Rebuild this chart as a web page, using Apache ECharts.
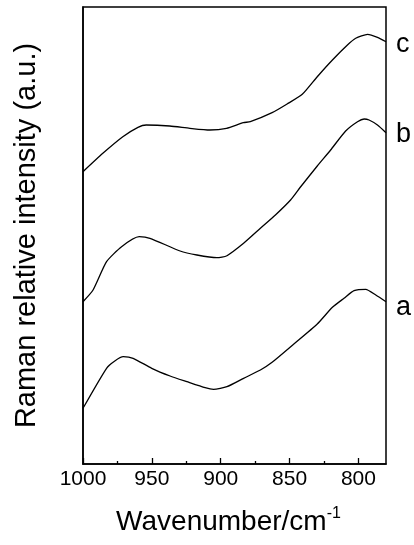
<!DOCTYPE html>
<html>
<head>
<meta charset="utf-8">
<script src="https://cdn.jsdelivr.net/npm/echarts@6/dist/echarts.min.js"></script>
<style>
html,body{margin:0;padding:0;background:#fff;}
#chart{width:414px;height:545px;}
</style>
</head>
<body>
<div id="chart"></div>
<script>
// Tick labels
var majorTicks = [1000, 950, 900, 850, 800];
var minorTicks = [975, 925, 875, 825];

// Series names (curve labels)
var seriesNames = ['a', 'b', 'c'];

// Curve a
var waveA = [1000, 982.9, 976.9, 970.8, 963.6, 950.1, 936.8, 924.6, 911.3, 905.2, 895.5, 883.4, 871.2, 862.7, 846.9, 829.9, 818.9, 810.5, 803.2, 794.7, 787.4, 780];
var intensA = [55.7, 95.7, 103, 107.3, 105.7, 95.7, 88, 82.3, 76.3, 74.7, 77.3, 85.7, 94, 101.7, 120, 140, 156.7, 165.7, 173.3, 174.7, 169, 162.3];

// Curve b
var waveB = [1000, 992.7, 982.9, 972.0, 959.2, 951.4, 929.5, 917.3, 902.8, 895.5, 883.4, 871.2, 860.3, 849.3, 842.1, 829.9, 820.2, 809.3, 800.7, 795.9, 792.3, 786.2, 780];
var intensB = [162.3, 174, 202.3, 217.3, 227.3, 225.7, 213, 209, 206.3, 208.3, 220.7, 235.7, 249, 264, 277, 298, 314, 333, 342.3, 345, 344, 339, 331.3];

// Curve c
var waveC = [1000, 985.6, 971.1, 960.1, 954.1, 937.0, 922.4, 907.9, 895.8, 883.6, 878.5, 862.7, 851.8, 840.8, 829.9, 818.9, 808.0, 802.0, 793.4, 786.2, 780];
var intensC = [292.3, 310.7, 327.3, 336.7, 339, 338, 335.7, 334, 335.7, 341.3, 342.3, 351.3, 360, 369.7, 387.3, 404, 419, 425.7, 429.7, 426.7, 422.3];

var FONT = '"Liberation Sans", Arial, Helvetica, sans-serif';

function zip(xs, ys) {
  return xs.map(function (x, i) { return [x, ys[i]]; });
}

function makeSeries(name, xs, ys, labelDy) {
  var last = xs.length - 1;
  return {
    name: name,
    type: 'line',
    data: zip(xs, ys),
    smooth: 0.2,
    symbol: 'circle',
    symbolSize: 0,
    showSymbol: true,
    showAllSymbol: true,
    lineStyle: { color: '#000', width: 1.3 },
    itemStyle: { color: '#000' },
    label: {
      show: true,
      position: 'right',
      distance: 10,
      offset: [0, labelDy],
      fontFamily: FONT,
      fontSize: 27,
      color: '#000',
      formatter: function (p) { return p.dataIndex === last ? name : ''; }
    },
    emphasis: { disabled: true },
    silent: true,
    animation: false
  };
}

var chart = echarts.init(document.getElementById('chart'), null, { renderer: 'canvas' });

chart.setOption({
  backgroundColor: '#fff',
  animation: false,
  grid: {
    left: 83, right: 28, top: 7, bottom: 81,
    show: true, borderColor: '#000', borderWidth: 1.5, backgroundColor: 'transparent'
  },
  xAxis: [
    {
      type: 'value',
      min: 780, max: 1000,
      inverse: true,
      position: 'bottom',
      axisLine: { show: true, lineStyle: { color: '#000', width: 1.5 } },
      axisTick: { show: true, inside: true, length: 6, lineStyle: { color: '#000', width: 1.3 }, customValues: majorTicks },
      axisLabel: {
        show: true, margin: 5, fontFamily: FONT, fontSize: 21, color: '#000',
        customValues: majorTicks,
        formatter: function (v) { return String(v); }
      },
      splitLine: { show: false },
      name: '{t|Wavenumber/cm}{s|-1}',
      nameLocation: 'middle',
      nameGap: 42,
      nameTextStyle: {
        color: '#000',
        padding: [0, 12, 0, 0],
        rich: {
          t: { fontFamily: FONT, fontSize: 28, color: '#000', lineHeight: 32 },
          s: { fontFamily: FONT, fontSize: 16, color: '#000', verticalAlign: 'top', lineHeight: 32 }
        }
      }
    },
    {
      type: 'value',
      min: 780, max: 1000,
      inverse: true,
      position: 'bottom',
      axisLine: { show: false },
      axisTick: { show: true, inside: true, length: 3, lineStyle: { color: '#000', width: 1.3 }, customValues: minorTicks },
      axisLabel: { show: false },
      splitLine: { show: false }
    }
  ],
  yAxis: {
    type: 'value',
    min: 0, max: 457,
    axisLine: { show: true, lineStyle: { color: '#000', width: 1.5 } },
    axisTick: { show: false },
    axisLabel: { show: false },
    splitLine: { show: false },
    name: 'Raman relative intensity (a.u.)',
    nameLocation: 'middle',
    nameGap: 42,
    nameTextStyle: { fontFamily: FONT, fontSize: 29, color: '#000' }
  },
  series: [
    makeSeries(seriesNames[0], waveA, intensA, 6),
    makeSeries(seriesNames[1], waveB, intensB, 2),
    makeSeries(seriesNames[2], waveC, intensC, 3)
  ]
});
</script>
</body>
</html>
